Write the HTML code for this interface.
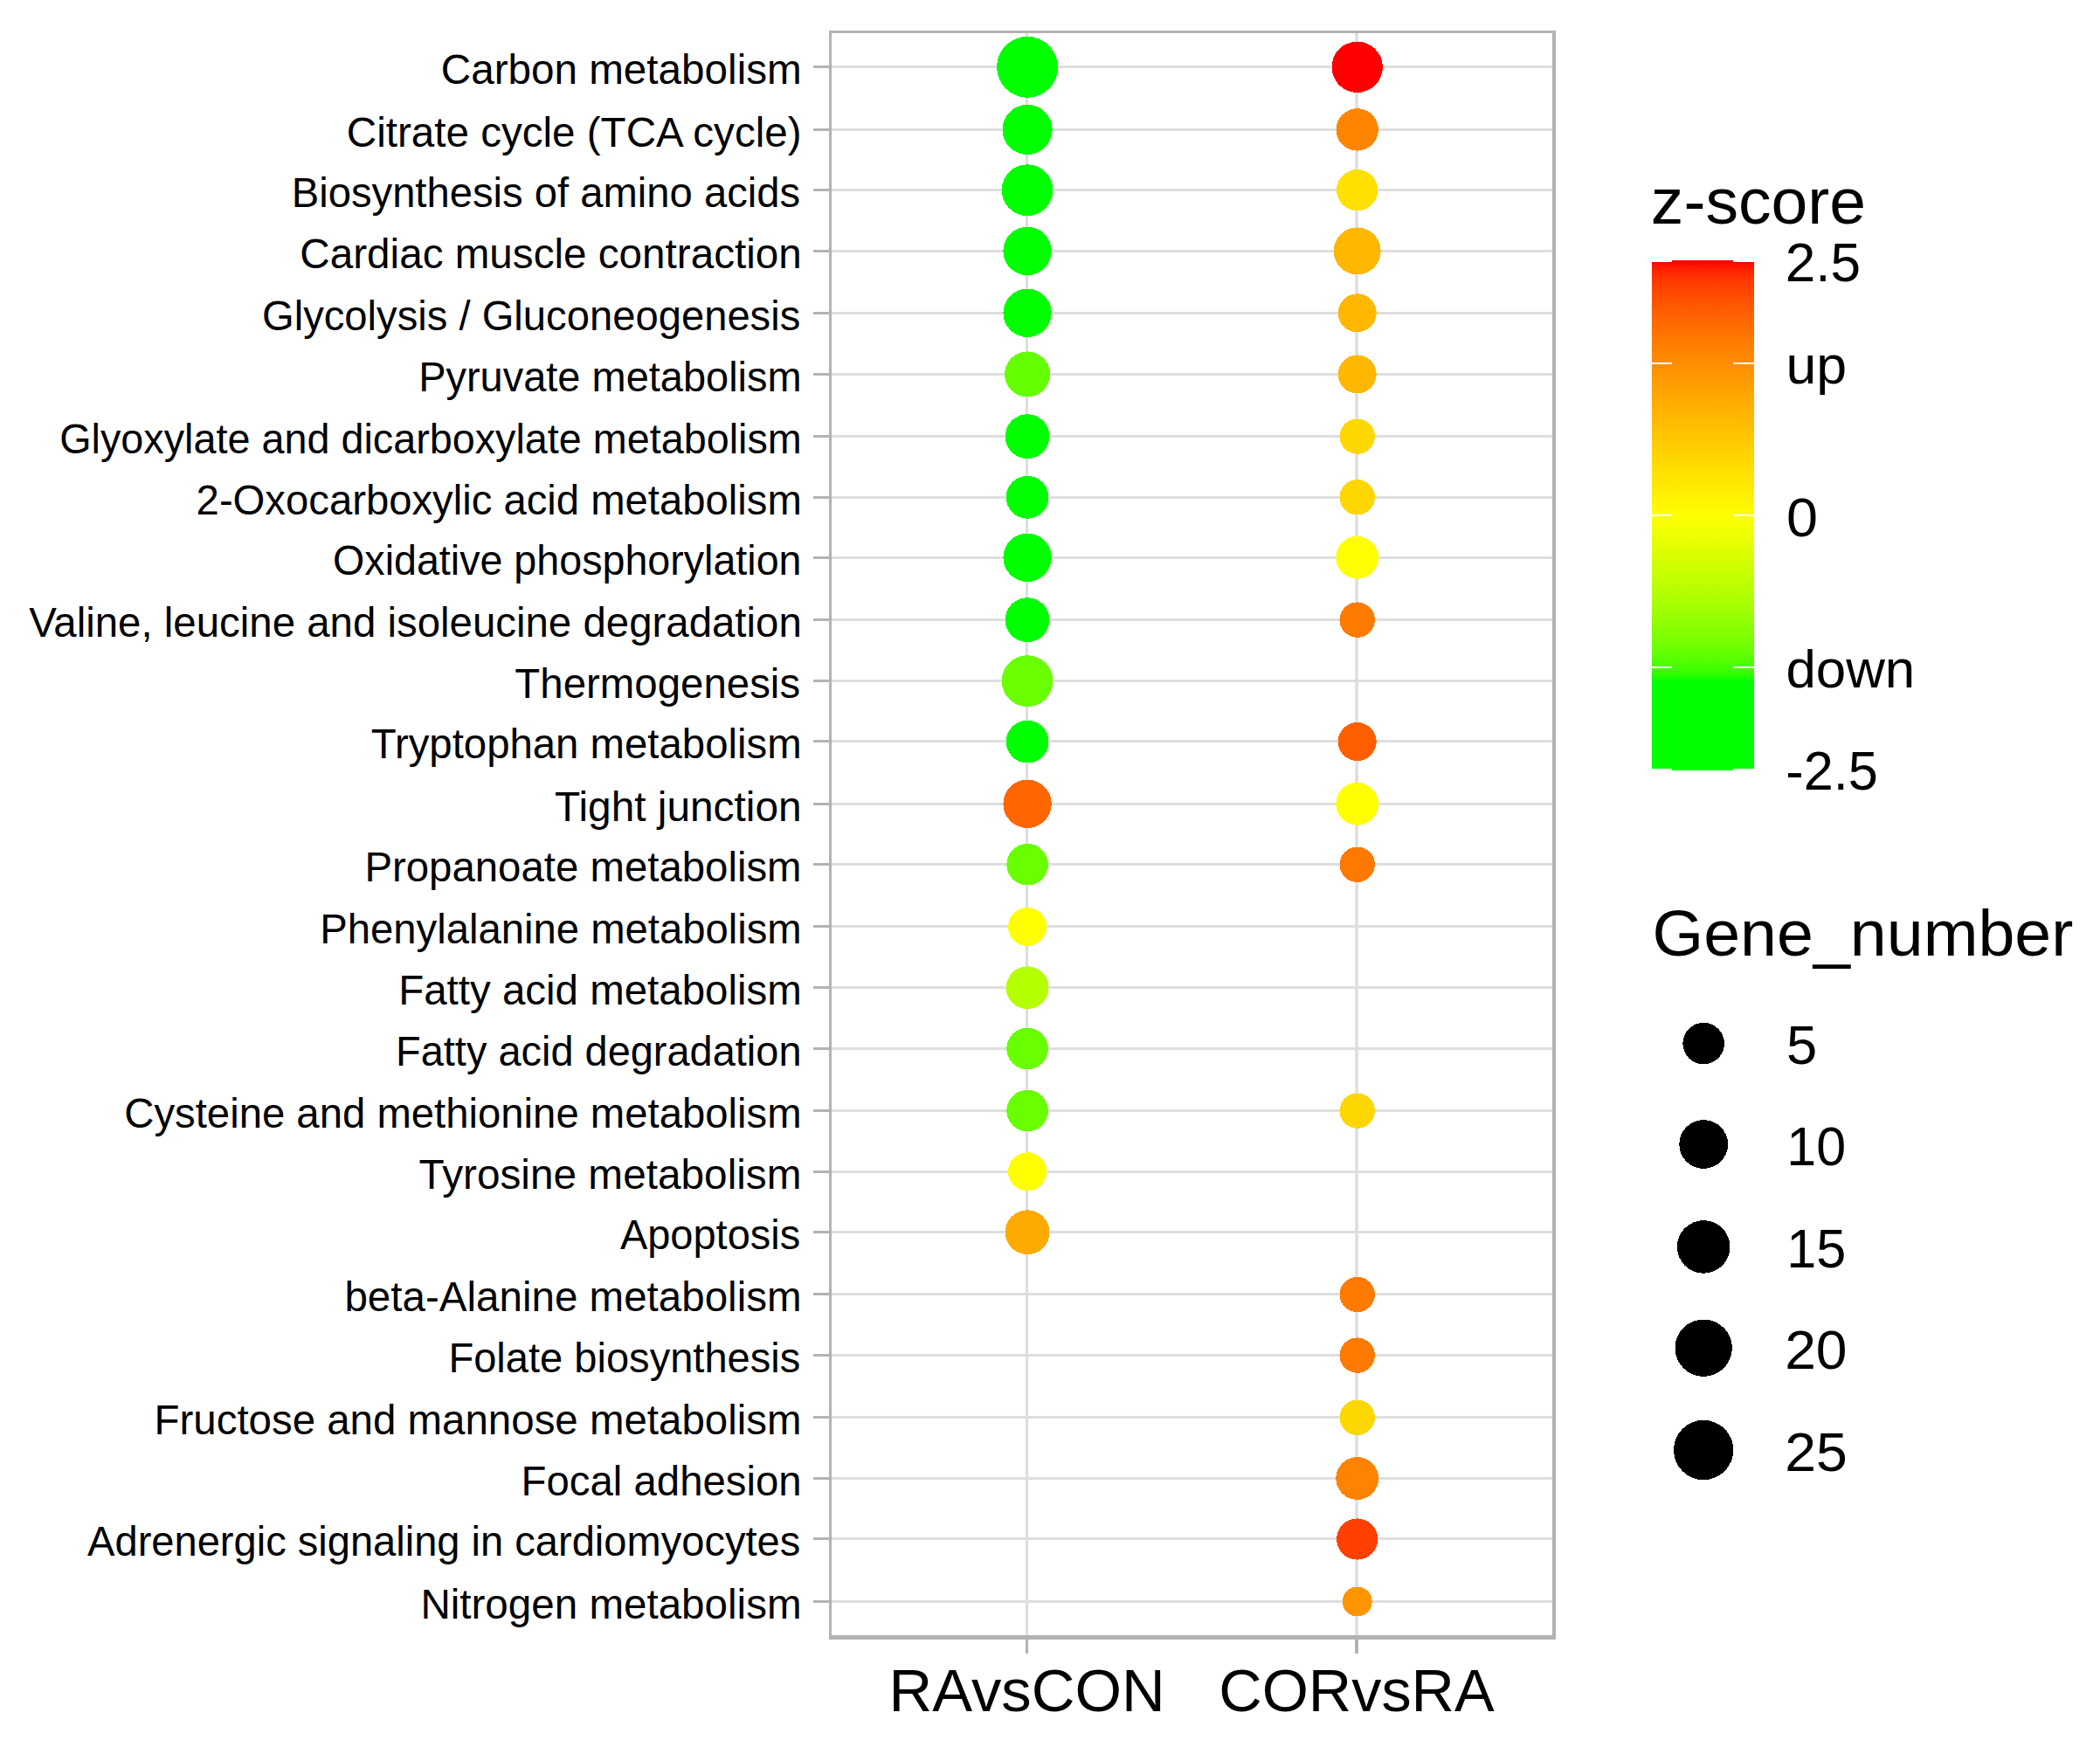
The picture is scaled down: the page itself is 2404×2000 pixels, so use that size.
<!DOCTYPE html><html><head><meta charset="utf-8"><title>KEGG bubble plot</title>
<style>html,body{margin:0;padding:0;background:#fff}svg{display:block}text{font-family:"Liberation Sans",Arial,sans-serif;fill:#000}</style></head><body>
<svg width="2404" height="2000" viewBox="0 0 2404 2000">
<rect width="2404" height="2000" fill="#fff"/>
<defs><linearGradient id="zg" x1="0" y1="0" x2="0" y2="1"><stop offset="0.0000" stop-color="#ff0000"/><stop offset="0.0084" stop-color="#ff1600"/><stop offset="0.0168" stop-color="#ff2300"/><stop offset="0.0252" stop-color="#ff2c00"/><stop offset="0.0336" stop-color="#ff3400"/><stop offset="0.0420" stop-color="#ff3b00"/><stop offset="0.0504" stop-color="#ff4100"/><stop offset="0.0588" stop-color="#ff4700"/><stop offset="0.0672" stop-color="#ff4c00"/><stop offset="0.0756" stop-color="#ff5100"/><stop offset="0.0840" stop-color="#ff5600"/><stop offset="0.0924" stop-color="#ff5b00"/><stop offset="0.1008" stop-color="#ff5f00"/><stop offset="0.1092" stop-color="#ff6400"/><stop offset="0.1177" stop-color="#ff6800"/><stop offset="0.1261" stop-color="#ff6c00"/><stop offset="0.1344" stop-color="#ff7000"/><stop offset="0.1429" stop-color="#ff7400"/><stop offset="0.1513" stop-color="#ff7800"/><stop offset="0.1597" stop-color="#ff7c00"/><stop offset="0.1681" stop-color="#ff7f00"/><stop offset="0.1765" stop-color="#ff8300"/><stop offset="0.1849" stop-color="#ff8700"/><stop offset="0.1933" stop-color="#ff8a00"/><stop offset="0.2017" stop-color="#ff8e00"/><stop offset="0.2101" stop-color="#ff9100"/><stop offset="0.2185" stop-color="#ff9500"/><stop offset="0.2269" stop-color="#ff9800"/><stop offset="0.2353" stop-color="#ff9c00"/><stop offset="0.2437" stop-color="#ff9f00"/><stop offset="0.2521" stop-color="#ffa200"/><stop offset="0.2605" stop-color="#ffa600"/><stop offset="0.2689" stop-color="#ffa900"/><stop offset="0.2773" stop-color="#ffac00"/><stop offset="0.2857" stop-color="#ffaf00"/><stop offset="0.2941" stop-color="#ffb300"/><stop offset="0.3025" stop-color="#ffb600"/><stop offset="0.3109" stop-color="#ffb900"/><stop offset="0.3193" stop-color="#ffbc00"/><stop offset="0.3277" stop-color="#ffc000"/><stop offset="0.3361" stop-color="#ffc300"/><stop offset="0.3445" stop-color="#ffc600"/><stop offset="0.3529" stop-color="#ffc900"/><stop offset="0.3613" stop-color="#ffcc00"/><stop offset="0.3697" stop-color="#ffcf00"/><stop offset="0.3782" stop-color="#ffd200"/><stop offset="0.3866" stop-color="#ffd600"/><stop offset="0.3950" stop-color="#ffd900"/><stop offset="0.4034" stop-color="#ffdc00"/><stop offset="0.4118" stop-color="#ffdf00"/><stop offset="0.4202" stop-color="#ffe200"/><stop offset="0.4286" stop-color="#ffe500"/><stop offset="0.4370" stop-color="#ffe800"/><stop offset="0.4454" stop-color="#ffeb00"/><stop offset="0.4538" stop-color="#ffee00"/><stop offset="0.4622" stop-color="#fff100"/><stop offset="0.4706" stop-color="#fff400"/><stop offset="0.4790" stop-color="#fff700"/><stop offset="0.4874" stop-color="#fffa00"/><stop offset="0.4958" stop-color="#fffd00"/><stop offset="0.5000" stop-color="#ffff00"/><stop offset="0.5042" stop-color="#fdff00"/><stop offset="0.5126" stop-color="#f9ff00"/><stop offset="0.5210" stop-color="#f5ff00"/><stop offset="0.5294" stop-color="#f1ff00"/><stop offset="0.5378" stop-color="#eeff00"/><stop offset="0.5462" stop-color="#eaff00"/><stop offset="0.5546" stop-color="#e6ff00"/><stop offset="0.5630" stop-color="#e2ff00"/><stop offset="0.5714" stop-color="#ddff00"/><stop offset="0.5798" stop-color="#d9ff00"/><stop offset="0.5882" stop-color="#d5ff00"/><stop offset="0.5966" stop-color="#d1ff00"/><stop offset="0.6050" stop-color="#cdff00"/><stop offset="0.6134" stop-color="#c8ff00"/><stop offset="0.6218" stop-color="#c4ff00"/><stop offset="0.6303" stop-color="#c0ff00"/><stop offset="0.6387" stop-color="#bbff00"/><stop offset="0.6471" stop-color="#b7ff00"/><stop offset="0.6555" stop-color="#b2ff00"/><stop offset="0.6639" stop-color="#adff00"/><stop offset="0.6723" stop-color="#a9ff00"/><stop offset="0.6807" stop-color="#a4ff00"/><stop offset="0.6891" stop-color="#9fff00"/><stop offset="0.6975" stop-color="#99ff00"/><stop offset="0.7059" stop-color="#94ff00"/><stop offset="0.7143" stop-color="#8fff00"/><stop offset="0.7227" stop-color="#89ff00"/><stop offset="0.7311" stop-color="#83ff00"/><stop offset="0.7395" stop-color="#7dff00"/><stop offset="0.7479" stop-color="#77ff00"/><stop offset="0.7563" stop-color="#70ff00"/><stop offset="0.7647" stop-color="#69ff00"/><stop offset="0.7731" stop-color="#62ff00"/><stop offset="0.7815" stop-color="#59ff00"/><stop offset="0.7899" stop-color="#50ff00"/><stop offset="0.7983" stop-color="#46ff00"/><stop offset="0.8017" stop-color="#42ff00"/><stop offset="0.8067" stop-color="#3aff00"/><stop offset="0.8069" stop-color="#3aff00"/><stop offset="0.8121" stop-color="#31ff00"/><stop offset="0.8151" stop-color="#2aff00"/><stop offset="0.8155" stop-color="#29ff00"/><stop offset="0.8190" stop-color="#21ff00"/><stop offset="0.8207" stop-color="#1bff00"/><stop offset="0.8224" stop-color="#15ff00"/><stop offset="0.8233" stop-color="#11ff00"/><stop offset="0.8235" stop-color="#10ff00"/><stop offset="0.8241" stop-color="#0cff00"/><stop offset="0.8250" stop-color="#06ff00"/><stop offset="0.8259" stop-color="#00ff00"/><stop offset="0.8319" stop-color="#00ff00"/><stop offset="0.8403" stop-color="#00ff00"/><stop offset="0.8487" stop-color="#00ff00"/><stop offset="0.8571" stop-color="#00ff00"/><stop offset="0.8656" stop-color="#00ff00"/><stop offset="0.8739" stop-color="#00ff00"/><stop offset="0.8823" stop-color="#00ff00"/><stop offset="0.8908" stop-color="#00ff00"/><stop offset="0.8992" stop-color="#00ff00"/><stop offset="0.9076" stop-color="#00ff00"/><stop offset="0.9160" stop-color="#00ff00"/><stop offset="0.9244" stop-color="#00ff00"/><stop offset="0.9328" stop-color="#00ff00"/><stop offset="0.9412" stop-color="#00ff00"/><stop offset="0.9496" stop-color="#00ff00"/><stop offset="0.9580" stop-color="#00ff00"/><stop offset="0.9664" stop-color="#00ff00"/><stop offset="0.9748" stop-color="#00ff00"/><stop offset="0.9832" stop-color="#00ff00"/><stop offset="0.9916" stop-color="#00ff00"/><stop offset="1.0000" stop-color="#00ff00"/></linearGradient></defs>
<g shape-rendering="crispEdges" fill="#dedede">
<rect x="949" y="75" width="832" height="3"/>
<rect x="949" y="147" width="832" height="3"/>
<rect x="949" y="216" width="832" height="3"/>
<rect x="949" y="286" width="832" height="3"/>
<rect x="949" y="357" width="832" height="3"/>
<rect x="949" y="427" width="832" height="3"/>
<rect x="949" y="498" width="832" height="3"/>
<rect x="949" y="568" width="832" height="3"/>
<rect x="949" y="637" width="832" height="3"/>
<rect x="949" y="708" width="832" height="3"/>
<rect x="949" y="778" width="832" height="3"/>
<rect x="949" y="847" width="832" height="3"/>
<rect x="949" y="919" width="832" height="3"/>
<rect x="949" y="988" width="832" height="3"/>
<rect x="949" y="1059" width="832" height="3"/>
<rect x="949" y="1129" width="832" height="3"/>
<rect x="949" y="1199" width="832" height="3"/>
<rect x="949" y="1270" width="832" height="3"/>
<rect x="949" y="1340" width="832" height="3"/>
<rect x="949" y="1409" width="832" height="3"/>
<rect x="949" y="1480" width="832" height="3"/>
<rect x="949" y="1550" width="832" height="3"/>
<rect x="949" y="1621" width="832" height="3"/>
<rect x="949" y="1691" width="832" height="3"/>
<rect x="949" y="1760" width="832" height="3"/>
<rect x="949" y="1832" width="832" height="3"/>
<rect x="1174" y="35" width="3" height="1842"/>
<rect x="1551.3" y="35" width="3.5" height="1842" shape-rendering="auto"/>
</g>
<g shape-rendering="crispEdges">
<circle cx="1176.1" cy="76.8" r="35" fill="#00ff00"/>
<circle cx="1553.7" cy="76.8" r="29.2" fill="#ff0000"/>
<circle cx="1176.1" cy="148.4" r="28.6" fill="#00ff00"/>
<circle cx="1553.7" cy="148.4" r="24.2" fill="#ff8500"/>
<circle cx="1176.1" cy="217.7" r="29.4" fill="#00ff00"/>
<circle cx="1553.7" cy="217.7" r="23.6" fill="#ffe000"/>
<circle cx="1176.1" cy="287.4" r="27.7" fill="#00ff00"/>
<circle cx="1553.7" cy="287.4" r="27" fill="#ffb700"/>
<circle cx="1176.1" cy="358.3" r="27.7" fill="#00ff00"/>
<circle cx="1553.7" cy="358.3" r="22" fill="#ffb700"/>
<circle cx="1176.1" cy="428.4" r="26" fill="#64ff00"/>
<circle cx="1553.7" cy="428.4" r="22" fill="#ffb700"/>
<circle cx="1176.1" cy="499.6" r="25.4" fill="#00ff00"/>
<circle cx="1553.7" cy="499.6" r="20.2" fill="#ffd700"/>
<circle cx="1176.1" cy="569.3" r="24.4" fill="#00ff00"/>
<circle cx="1553.7" cy="569.3" r="20.2" fill="#ffd700"/>
<circle cx="1176.1" cy="638.3" r="27.7" fill="#00ff00"/>
<circle cx="1553.7" cy="638.3" r="24.4" fill="#ffff00"/>
<circle cx="1176.1" cy="709.6" r="25.4" fill="#00ff00"/>
<circle cx="1553.7" cy="709.6" r="20.2" fill="#ff7a00"/>
<circle cx="1176.1" cy="779.6" r="29.4" fill="#69ff00"/>
<circle cx="1176.1" cy="849.1" r="24.4" fill="#00ff00"/>
<circle cx="1553.7" cy="849.1" r="22" fill="#ff5f00"/>
<circle cx="1176.1" cy="920.3" r="27.7" fill="#ff6600"/>
<circle cx="1553.7" cy="920.3" r="24.4" fill="#ffff00"/>
<circle cx="1176.1" cy="989.7" r="23.8" fill="#69ff00"/>
<circle cx="1553.7" cy="989.7" r="20.2" fill="#ff7800"/>
<circle cx="1176.1" cy="1061.0" r="22" fill="#ffff00"/>
<circle cx="1176.1" cy="1130.7" r="24.4" fill="#b4ff00"/>
<circle cx="1176.1" cy="1200.5" r="23.8" fill="#69ff00"/>
<circle cx="1176.1" cy="1271.6" r="23.8" fill="#69ff00"/>
<circle cx="1553.7" cy="1271.6" r="20.2" fill="#ffd700"/>
<circle cx="1176.1" cy="1341.3" r="22" fill="#ffff00"/>
<circle cx="1176.1" cy="1410.7" r="25.4" fill="#ffaa00"/>
<circle cx="1553.7" cy="1482.0" r="20.2" fill="#ff7a00"/>
<circle cx="1553.7" cy="1551.6" r="20.2" fill="#ff7a00"/>
<circle cx="1553.7" cy="1622.8" r="20.2" fill="#ffd700"/>
<circle cx="1553.7" cy="1692.5" r="24.4" fill="#ff8200"/>
<circle cx="1553.7" cy="1762.0" r="23.6" fill="#ff4000"/>
<circle cx="1553.7" cy="1833.5" r="17" fill="#ff9600"/>
</g>
<g shape-rendering="crispEdges" fill="#b3b3b3">
<rect x="949" y="35" width="3" height="1842"/>
<rect x="949" y="35" width="832" height="3"/>
<rect x="1777" y="35" width="4" height="1842"/>
<rect x="949" y="1872" width="832" height="5"/>
<rect x="931" y="75" width="18" height="3"/>
<rect x="931" y="147" width="18" height="3"/>
<rect x="931" y="216" width="18" height="3"/>
<rect x="931" y="286" width="18" height="3"/>
<rect x="931" y="357" width="18" height="3"/>
<rect x="931" y="427" width="18" height="3"/>
<rect x="931" y="498" width="18" height="3"/>
<rect x="931" y="568" width="18" height="3"/>
<rect x="931" y="637" width="18" height="3"/>
<rect x="931" y="708" width="18" height="3"/>
<rect x="931" y="778" width="18" height="3"/>
<rect x="931" y="847" width="18" height="3"/>
<rect x="931" y="919" width="18" height="3"/>
<rect x="931" y="988" width="18" height="3"/>
<rect x="931" y="1059" width="18" height="3"/>
<rect x="931" y="1129" width="18" height="3"/>
<rect x="931" y="1199" width="18" height="3"/>
<rect x="931" y="1270" width="18" height="3"/>
<rect x="931" y="1340" width="18" height="3"/>
<rect x="931" y="1409" width="18" height="3"/>
<rect x="931" y="1480" width="18" height="3"/>
<rect x="931" y="1550" width="18" height="3"/>
<rect x="931" y="1621" width="18" height="3"/>
<rect x="931" y="1691" width="18" height="3"/>
<rect x="931" y="1760" width="18" height="3"/>
<rect x="931" y="1832" width="18" height="3"/>
<rect x="1174" y="1877" width="3" height="16"/>
<rect x="1551" y="1877" width="4" height="16"/>
</g>
<text transform="translate(504.76,96.1) scale(1.0094,1)" font-size="47.2">Carbon metabolism</text>
<text transform="translate(396.86,167.7) scale(1.0081,1)" font-size="47.2">Citrate cycle (TCA cycle)</text>
<text transform="translate(333.72,237.0) scale(1.0003,1)" font-size="47.2">Biosynthesis of amino acids</text>
<text transform="translate(343.36,306.7) scale(1.0093,1)" font-size="47.2">Cardiac muscle contraction</text>
<text transform="translate(299.98,377.6) scale(0.9999,1)" font-size="47.2">Glycolysis / Gluconeogenesis</text>
<text transform="translate(479.14,447.7) scale(0.9952,1)" font-size="47.2">Pyruvate metabolism</text>
<text transform="translate(68.20,518.9) scale(0.9905,1)" font-size="47.2">Glyoxylate and dicarboxylate metabolism</text>
<text transform="translate(224.61,588.6) scale(1.0010,1)" font-size="47.2">2-Oxocarboxylic acid metabolism</text>
<text transform="translate(381.06,657.6) scale(0.9880,1)" font-size="47.2">Oxidative phosphorylation</text>
<text transform="translate(33.18,728.9) scale(1.0045,1)" font-size="47.2">Valine, leucine and isoleucine degradation</text>
<text transform="translate(589.32,798.9) scale(1.0049,1)" font-size="47.2">Thermogenesis</text>
<text transform="translate(424.72,868.4) scale(1.0032,1)" font-size="47.2">Tryptophan metabolism</text>
<text transform="translate(635.01,939.6) scale(1.0130,1)" font-size="47.2">Tight junction</text>
<text transform="translate(417.41,1009.0) scale(1.0038,1)" font-size="47.2">Propanoate metabolism</text>
<text transform="translate(366.22,1080.3) scale(1.0011,1)" font-size="47.2">Phenylalanine metabolism</text>
<text transform="translate(456.20,1150.0) scale(1.0057,1)" font-size="47.2">Fatty acid metabolism</text>
<text transform="translate(453.05,1219.8) scale(0.9947,1)" font-size="47.2">Fatty acid degradation</text>
<text transform="translate(142.28,1290.9) scale(1.0020,1)" font-size="47.2">Cysteine and methionine metabolism</text>
<text transform="translate(479.61,1360.6) scale(1.0121,1)" font-size="47.2">Tyrosine metabolism</text>
<text transform="translate(709.89,1430.0) scale(0.9953,1)" font-size="47.2">Apoptosis</text>
<text transform="translate(394.39,1501.3) scale(1.0076,1)" font-size="47.2">beta-Alanine metabolism</text>
<text transform="translate(513.44,1570.9) scale(0.9974,1)" font-size="47.2">Folate biosynthesis</text>
<text transform="translate(176.50,1642.1) scale(1.0055,1)" font-size="47.2">Fructose and mannose metabolism</text>
<text transform="translate(596.61,1711.8) scale(1.0031,1)" font-size="47.2">Focal adhesion</text>
<text transform="translate(100.09,1781.3) scale(0.9973,1)" font-size="47.2">Adrenergic signaling in cardiomyocytes</text>
<text transform="translate(481.39,1852.8) scale(1.0080,1)" font-size="47.2">Nitrogen metabolism</text>
<text transform="translate(1017.44,1959.4) scale(1.0028,1)" font-size="68.7">RAvsCON</text>
<text transform="translate(1395.29,1959.4) scale(0.9954,1)" font-size="68.7">CORvsRA</text>
<text transform="translate(1889.84,256.4) scale(1.0019,1)" font-size="75">z-score</text>
<text transform="translate(1891.59,1093.5) scale(1.0050,1)" font-size="75">Gene_number</text>
<text transform="translate(2043.76,322.2) scale(0.9793,1)" font-size="63.5">2.5</text>
<text transform="translate(2044.49,438.5) scale(1.0273,1)" font-size="61">up</text>
<text transform="translate(2044.95,613.8) scale(1.0204,1)" font-size="63.5">0</text>
<text transform="translate(2044.38,787.2) scale(1.0138,1)" font-size="61">down</text>
<text transform="translate(2044.27,903.6) scale(0.9645,1)" font-size="63.5">-2.5</text>
<text transform="translate(2044.97,1217.5) scale(0.9974,1)" font-size="63.5">5</text>
<text transform="translate(2045.35,1334.0) scale(0.9611,1)" font-size="63.5">10</text>
<text transform="translate(2045.33,1451.0) scale(0.9633,1)" font-size="63.5">15</text>
<text transform="translate(2043.16,1567.3) scale(1.0109,1)" font-size="63.5">20</text>
<text transform="translate(2043.15,1684.0) scale(1.0132,1)" font-size="63.5">25</text>
<rect x="1891" y="300" width="117" height="580" fill="url(#zg)" shape-rendering="crispEdges"/>
<rect x="1914" y="298" width="70" height="3" fill="#ff0000" shape-rendering="crispEdges"/>
<rect x="1914" y="879" width="70" height="2.5" fill="#00ff00" shape-rendering="crispEdges"/>
<g fill="#fff" shape-rendering="crispEdges">
<rect x="1891" y="415" width="23" height="2"/><rect x="1984" y="415" width="24" height="2"/>
<rect x="1891" y="589" width="23" height="2"/><rect x="1984" y="589" width="24" height="2"/>
<rect x="1891" y="763" width="23" height="2"/><rect x="1984" y="763" width="24" height="2"/>
</g>
<g fill="#000" shape-rendering="crispEdges">
<circle cx="1950.2" cy="1194.6" r="23.8"/>
<circle cx="1950.2" cy="1310" r="27.9"/>
<circle cx="1950.2" cy="1427.4" r="30.3"/>
<circle cx="1950.2" cy="1543.2" r="32.7"/>
<circle cx="1950.2" cy="1660" r="34.2"/>
</g>
</svg></body></html>
